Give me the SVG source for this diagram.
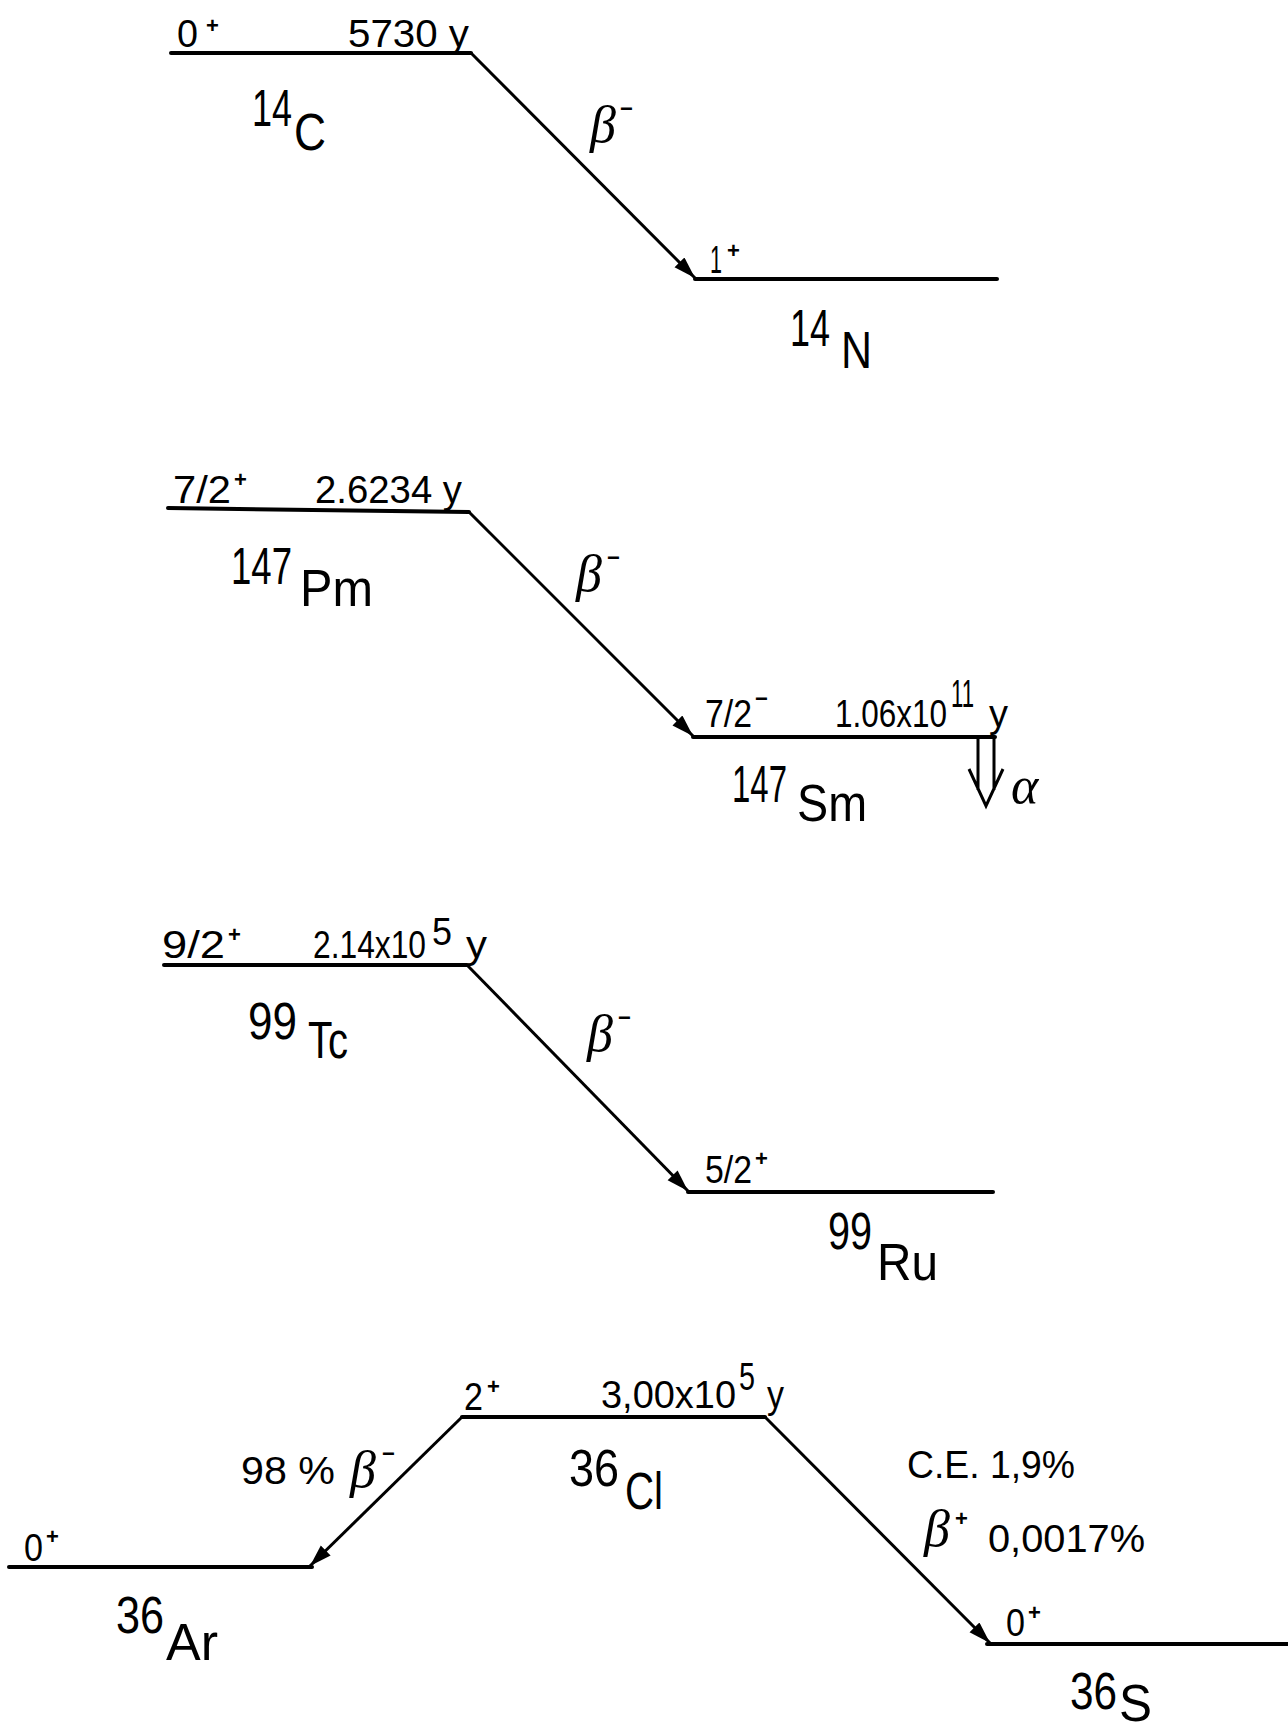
<svg xmlns="http://www.w3.org/2000/svg" width="1288" height="1733" viewBox="0 0 1288 1733">
<style>
.lvl{stroke:#000;stroke-width:4;stroke-linecap:round;fill:none}
.tr{stroke:#000;stroke-width:3;fill:none}
.s{font-family:"Liberation Sans",Arial,sans-serif;font-size:38px;fill:#000}
.sup{font-family:"Liberation Sans",Arial,sans-serif;font-size:22px;fill:#000;font-weight:bold}
.big{font-family:"Liberation Sans",Arial,sans-serif;font-size:52px;fill:#000}
.gr{font-family:"Liberation Serif","Times New Roman",serif;font-style:italic;font-size:52px;fill:#000}
</style>
<defs>
<marker id="ah" markerUnits="userSpaceOnUse" markerWidth="24" markerHeight="16" refX="22" refY="7" orient="auto">
<path d="M0,0 L22,7 L0,14 z" fill="#000"/>
</marker>
</defs>
<rect width="1288" height="1733" fill="#fff"/>

<g id="C14">
<line class="lvl" x1="171" y1="53" x2="471" y2="53"/>
<text class="s" x="177" y="47" textLength="21" lengthAdjust="spacingAndGlyphs">0</text>
<text class="sup" x="206" y="33">+</text>
<text class="s" x="348" y="47" textLength="121" lengthAdjust="spacingAndGlyphs">5730 y</text>
<text class="big" x="252" y="126" textLength="40" lengthAdjust="spacingAndGlyphs">14</text>
<text class="big" x="294" y="150" textLength="32" lengthAdjust="spacingAndGlyphs">C</text>
</g>
<g id="N14">
<line class="lvl" x1="695" y1="279" x2="997" y2="279"/>
<text class="s" x="710" y="273" textLength="12" lengthAdjust="spacingAndGlyphs">1</text>
<text class="sup" x="727" y="258">+</text>
<text class="big" x="790" y="346" textLength="40" lengthAdjust="spacingAndGlyphs">14</text>
<text class="big" x="841" y="368" textLength="31" lengthAdjust="spacingAndGlyphs">N</text>
</g>

<g id="Pm147">
<line class="lvl" x1="168" y1="508" x2="469" y2="512"/>
<text class="s" x="173" y="503" textLength="58" lengthAdjust="spacingAndGlyphs">7/2</text>
<text class="sup" x="234" y="487">+</text>
<text class="s" x="315" y="503" textLength="147" lengthAdjust="spacingAndGlyphs">2.6234 y</text>
<text class="big" x="231" y="584" textLength="61" lengthAdjust="spacingAndGlyphs">147</text>
<text class="big" x="300" y="606" textLength="73" lengthAdjust="spacingAndGlyphs">Pm</text>
</g>
<g id="Sm147">
<line class="lvl" x1="693" y1="737" x2="995" y2="737"/>
<text class="s" x="705" y="727" textLength="47" lengthAdjust="spacingAndGlyphs">7/2</text>
<text class="sup" x="755" y="706">−</text>
<text class="s" x="835" y="727" textLength="112" lengthAdjust="spacingAndGlyphs">1.06x10</text>
<text class="s" x="951" y="707" font-size="30" textLength="23" lengthAdjust="spacingAndGlyphs">11</text>
<text class="s" x="989" y="727" textLength="19" lengthAdjust="spacingAndGlyphs">y</text>
<text class="big" x="732" y="802" textLength="55" lengthAdjust="spacingAndGlyphs">147</text>
<text class="big" x="797" y="821" textLength="70" lengthAdjust="spacingAndGlyphs">Sm</text>
</g>

<g id="Tc99">
<line class="lvl" x1="164" y1="965" x2="467" y2="965"/>
<text class="s" x="162" y="958" textLength="63" lengthAdjust="spacingAndGlyphs">9/2</text>
<text class="sup" x="228" y="942">+</text>
<text class="s" x="313" y="958" textLength="113" lengthAdjust="spacingAndGlyphs">2.14x10</text>
<text class="s" x="432" y="945" font-size="34" textLength="20" lengthAdjust="spacingAndGlyphs">5</text>
<text class="s" x="466" y="958" textLength="21" lengthAdjust="spacingAndGlyphs">y</text>
<text class="big" x="248" y="1039" textLength="49" lengthAdjust="spacingAndGlyphs">99</text>
<text class="big" x="308" y="1058" textLength="40" lengthAdjust="spacingAndGlyphs">Tc</text>
</g>
<g id="Ru99">
<line class="lvl" x1="688" y1="1192" x2="993" y2="1192"/>
<text class="s" x="705" y="1183" textLength="47" lengthAdjust="spacingAndGlyphs">5/2</text>
<text class="sup" x="755" y="1166">+</text>
<text class="big" x="828" y="1249" textLength="44" lengthAdjust="spacingAndGlyphs">99</text>
<text class="big" x="877" y="1280" textLength="61" lengthAdjust="spacingAndGlyphs">Ru</text>
</g>

<g id="Cl36">
<line class="lvl" x1="462" y1="1417" x2="765" y2="1417"/>
<text class="s" x="464" y="1410" textLength="19" lengthAdjust="spacingAndGlyphs">2</text>
<text class="sup" x="487" y="1394">+</text>
<text class="s" x="601" y="1408" textLength="135" lengthAdjust="spacingAndGlyphs">3,00x10</text>
<text class="s" x="739" y="1390" font-size="34" textLength="16" lengthAdjust="spacingAndGlyphs">5</text>
<text class="s" x="767" y="1408" textLength="17" lengthAdjust="spacingAndGlyphs">y</text>
<text class="big" x="569" y="1486" textLength="50" lengthAdjust="spacingAndGlyphs">36</text>
<text class="big" x="625" y="1509" textLength="38" lengthAdjust="spacingAndGlyphs">Cl</text>
</g>
<g id="Ar36">
<line class="lvl" x1="9" y1="1567" x2="312" y2="1567"/>
<text class="s" x="24" y="1561" textLength="19" lengthAdjust="spacingAndGlyphs">0</text>
<text class="sup" x="46" y="1544">+</text>
<text class="big" x="116" y="1633" textLength="48" lengthAdjust="spacingAndGlyphs">36</text>
<text class="big" x="166" y="1660" textLength="52" lengthAdjust="spacingAndGlyphs">Ar</text>
</g>
<g id="S36">
<line class="lvl" x1="987" y1="1644" x2="1288" y2="1644"/>
<text class="s" x="1006" y="1636" textLength="19" lengthAdjust="spacingAndGlyphs">0</text>
<text class="sup" x="1028" y="1620">+</text>
<text class="big" x="1070" y="1709" textLength="47" lengthAdjust="spacingAndGlyphs">36</text>
<text class="big" x="1119" y="1721" font-size="50" textLength="33" lengthAdjust="spacingAndGlyphs">S</text>
</g>

<g id="connectors">
<line class="tr" x1="471" y1="53" x2="695" y2="278" marker-end="url(#ah)"/>
<text class="gr" x="590" y="142">β</text>
<text class="sup" x="620" y="116" font-size="26">−</text>

<line class="tr" x1="469" y1="512" x2="693" y2="736" marker-end="url(#ah)"/>
<text class="gr" x="576" y="591">β</text>
<text class="sup" x="607" y="565" font-size="26">−</text>

<line class="tr" x1="467" y1="965" x2="688" y2="1191" marker-end="url(#ah)"/>
<text class="gr" x="587" y="1051">β</text>
<text class="sup" x="618" y="1025" font-size="26">−</text>

<line class="tr" x1="462" y1="1417" x2="310" y2="1566" marker-end="url(#ah)"/>
<text class="s" x="241" y="1484" font-size="42" textLength="94" lengthAdjust="spacingAndGlyphs">98 %</text>
<text class="gr" x="350" y="1487">β</text>
<text class="sup" x="382" y="1461" font-size="26">−</text>

<line class="tr" x1="765" y1="1417" x2="990" y2="1643" marker-end="url(#ah)"/>
<text class="s" x="907" y="1478" font-size="40" textLength="168" lengthAdjust="spacingAndGlyphs">C.E. 1,9%</text>
<text class="gr" x="924" y="1546">β</text>
<text class="sup" x="955" y="1526">+</text>
<text class="s" x="988" y="1552" font-size="40" textLength="157" lengthAdjust="spacingAndGlyphs">0,0017%</text>

<g id="alpha">
<path class="tr" d="M978,738 V790 M994,738 V790 M969,769 L986,806 L1003,769"/>
<text class="gr" x="1011" y="803" font-size="46">α</text>
</g>
</g>
</svg>
